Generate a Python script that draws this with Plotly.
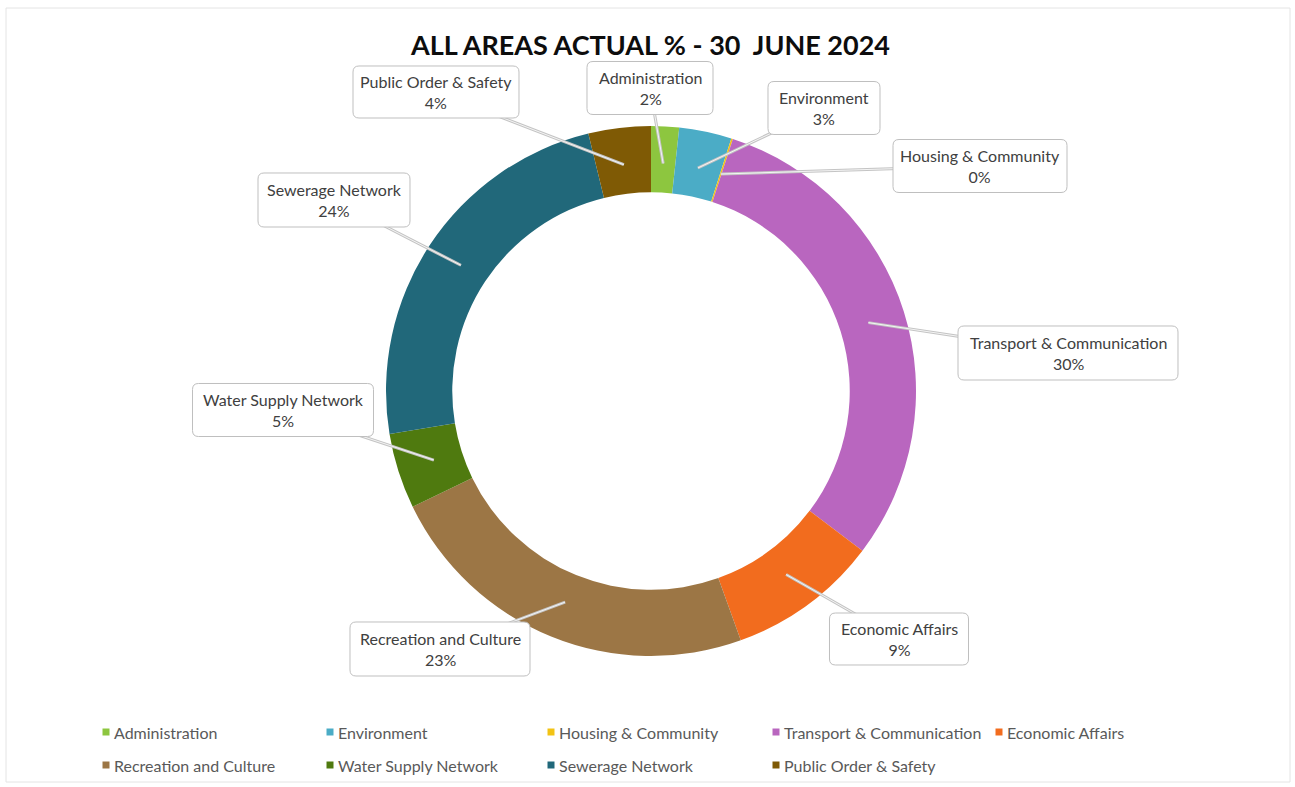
import math
import plotly.graph_objects as go

W, H = 1295, 787

# Spending areas and their actual share of the total (percent)
categories = [
    "Administration", "Environment", "Housing & Community",
    "Transport & Communication", "Economic Affairs", "Recreation and Culture",
    "Water Supply Network", "Sewerage Network", "Public Order & Safety",
]
actual_pct = [1.7, 3.2, 0.1, 30.3, 9.2, 23.3, 4.6, 23.8, 3.8]
colors = ["#8dc63f", "#4bacc6", "#f2c314", "#b966bf", "#f26c1e",
          "#9c7645", "#4f7a0f", "#21687a", "#7f5a05"]

title_text = "ALL AREAS ACTUAL % - 30\u00a0 JUNE 2024"

# Donut placement (pixels)
cx, cy, r_out = 651, 391, 265
hole = 0.75

# Callout box centres and sizes (pixels)
box_centre = [(650, 88), (824, 108), (980, 166), (1068, 353), (899, 639),
              (440, 649), (283, 410), (334, 200), (436, 92)]
box_size = [(126, 53), (112, 53), (174, 53), (220, 54), (139, 52),
            (180, 54), (181, 53), (152, 54), (166, 52)]

# Legend grid: column x of the square markers, row y (pixels)
legend_cols = [106, 330, 551, 776, 999]
legend_rows = [732, 765]

FONT = "Lato, Open Sans, sans-serif"


def px(x):
    return x / W


def py(y):
    return 1 - y / H


def rounded_box(x0, y0, x1, y1, r=6):
    """SVG path (paper units) for a rounded rectangle given in pixels."""
    pts = [
        ("M", x0 + r, y0), ("L", x1 - r, y0), ("Q", x1, y0, x1, y0 + r),
        ("L", x1, y1 - r), ("Q", x1, y1, x1 - r, y1),
        ("L", x0 + r, y1), ("Q", x0, y1, x0, y1 - r),
        ("L", x0, y0 + r), ("Q", x0, y0, x0 + r, y0),
    ]
    out = []
    for cmd, *c in pts:
        coords = []
        for k in range(0, len(c), 2):
            coords.append(f"{px(c[k]):.5f},{py(c[k + 1]):.5f}")
        out.append(cmd + " ".join(coords))
    return " ".join(out) + " Z"


fig = go.Figure()
fig.add_trace(go.Pie(
    labels=categories,
    values=actual_pct,
    hole=hole,
    sort=False,
    direction="clockwise",
    rotation=0,
    marker=dict(colors=colors, line=dict(width=0)),
    textinfo="none",
    hoverinfo="label+percent",
    showlegend=False,
    domain=dict(x=[px(cx - r_out), px(cx + r_out)],
                y=[py(cy + r_out), py(cy - r_out)]),
))

shapes = []
annotations = []

# Chart frame
shapes.append(dict(type="rect", xref="paper", yref="paper",
                   x0=px(6), x1=px(1290), y0=py(782), y1=py(8),
                   line=dict(color="#e4e4e4", width=1), layer="below"))

total = sum(actual_pct)
r_tip = r_out * 0.86
cum = 0.0
boxes = []
for name, v, (bx, by), (bw, bh) in zip(categories, actual_pct, box_centre, box_size):
    mid = (cum + v / 2) / total * 2 * math.pi
    cum += v
    tx = cx + r_tip * math.sin(mid)
    ty = cy - r_tip * math.cos(mid)
    # leader line: grey edge with a light core
    for col, wd in (("#c4c4c4", 3), ("#f4f4f4", 1)):
        shapes.append(dict(type="line", xref="paper", yref="paper",
                           x0=px(tx), y0=py(ty), x1=px(bx), y1=py(by),
                           line=dict(color=col, width=wd), layer="above"))
    boxes.append(dict(type="path", xref="paper", yref="paper",
                      path=rounded_box(bx - bw / 2, by - bh / 2, bx + bw / 2, by + bh / 2),
                      fillcolor="#ffffff", line=dict(color="#bfbfbf", width=1),
                      layer="above"))
    pct = round(v / total * 100)
    annotations.append(dict(
        x=px(bx), y=py(by), xref="paper", yref="paper",
        text=f"{name}<br>{pct}%", showarrow=False,
        font=dict(family=FONT, size=16, color="#404040"),
        align="center", xanchor="center", yanchor="middle",
    ))
# callout boxes sit on top of the leader lines
shapes.extend(boxes)

# Legend (five entries per row)
for i, (name, col) in enumerate(zip(categories, colors)):
    lx = legend_cols[i % 5]
    ly = legend_rows[i // 5]
    shapes.append(dict(type="rect", xref="paper", yref="paper",
                       x0=px(lx - 3.5), x1=px(lx + 3.5),
                       y0=py(ly + 3.5), y1=py(ly - 3.5),
                       fillcolor=col, line=dict(width=0)))
    annotations.append(dict(
        x=px(lx + 6), y=py(ly), xref="paper", yref="paper",
        text=name, showarrow=False, xanchor="left", yanchor="middle",
        font=dict(family=FONT, size=16, color="#595959"),
    ))

# Title
annotations.append(dict(
    x=px(650), y=py(45), xref="paper", yref="paper",
    text=f"<b>{title_text}</b>", showarrow=False,
    xanchor="center", yanchor="middle",
    font=dict(family=FONT, size=27, color="#0d0d0d"),
))

fig.update_layout(
    width=W, height=H,
    margin=dict(l=0, r=0, t=0, b=0),
    paper_bgcolor="#ffffff",
    plot_bgcolor="#ffffff",
    shapes=shapes,
    annotations=annotations,
)

fig.write_html("out.html")
